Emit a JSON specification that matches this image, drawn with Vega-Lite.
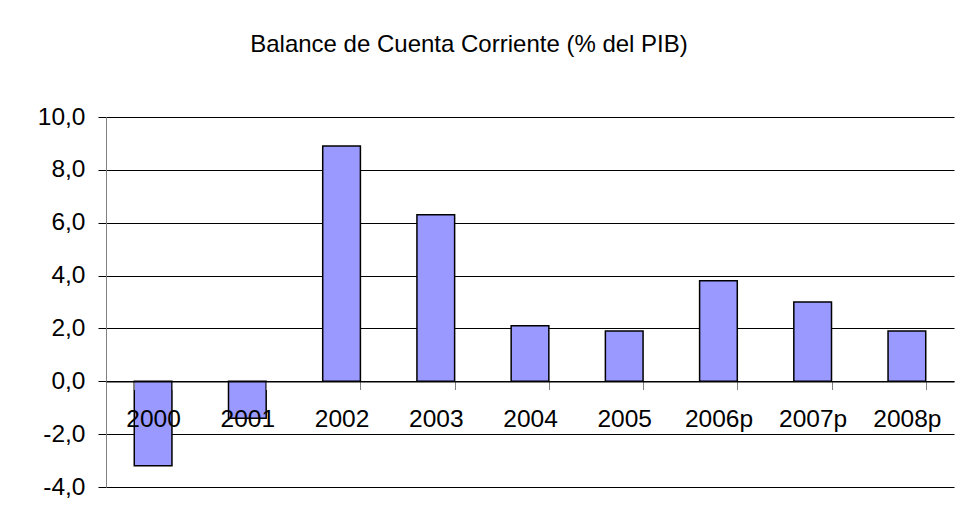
{
  "$schema": "https://vega.github.io/schema/vega-lite/v6.json",
  "width": 848,
  "height": 370,
  "autosize": {"type": "none"},
  "padding": {"left": 106, "top": 117, "right": 4, "bottom": 38},
  "background": "white",
  "title": {
    "text": "Balance de Cuenta Corriente (% del PIB)",
    "font": "Liberation Sans",
    "fontSize": 24,
    "fontWeight": "normal",
    "color": "black",
    "anchor": "middle",
    "dx": -61,
    "baseline": "alphabetic",
    "offset": 28
  },
  "data": {
    "values": [
      {"year": "2000", "value": -3.2},
      {"year": "2001", "value": -1.4},
      {"year": "2002", "value": 8.9},
      {"year": "2003", "value": 6.3},
      {"year": "2004", "value": 2.1},
      {"year": "2005", "value": 1.9},
      {"year": "2006p", "value": 3.8},
      {"year": "2007p", "value": 3.0},
      {"year": "2008p", "value": 1.9}
    ]
  },
  "mark": {"type": "bar", "fill": "#9999FF", "stroke": "black", "strokeWidth": 1.5},
  "encoding": {
    "x": {
      "field": "year",
      "type": "nominal",
      "sort": null,
      "scale": {"paddingInner": 0.6, "paddingOuter": 0.3},
      "axis": {
        "title": null,
        "labelAngle": 0,
        "offset": -105.5,
        "zindex": 1,
        "tickBand": "extent",
        "tickColor": "#808080",
        "tickSize": 8,
        "domainColor": "black",
        "domainWidth": 1,
        "labelFont": "Liberation Sans",
        "labelFontSize": 24.5,
        "labelColor": "black",
        "labelBaseline": "alphabetic",
        "labelPadding": 37,
        "labelOverlap": false,
        "grid": false
      }
    },
    "y": {
      "field": "value",
      "type": "quantitative",
      "scale": {"domain": [-4, 10], "nice": false, "zero": false},
      "axis": {
        "title": null,
        "values": [-4, -2, 0, 2, 4, 6, 8, 10],
        "labelExpr": "replace(replace(format(datum.value, '.1f'), '.', ','), '\u2212', '-')",
        "zindex": 0,
        "grid": true,
        "gridColor": "black",
        "gridOpacity": 1,
        "gridWidth": 1,
        "domainColor": "#808080",
        "tickColor": "black",
        "tickSize": 8,
        "labelFont": "Liberation Sans",
        "labelFontSize": 24.5,
        "labelColor": "black",
        "labelPadding": 13
      }
    }
  },
  "config": {"view": {"stroke": null}}
}
